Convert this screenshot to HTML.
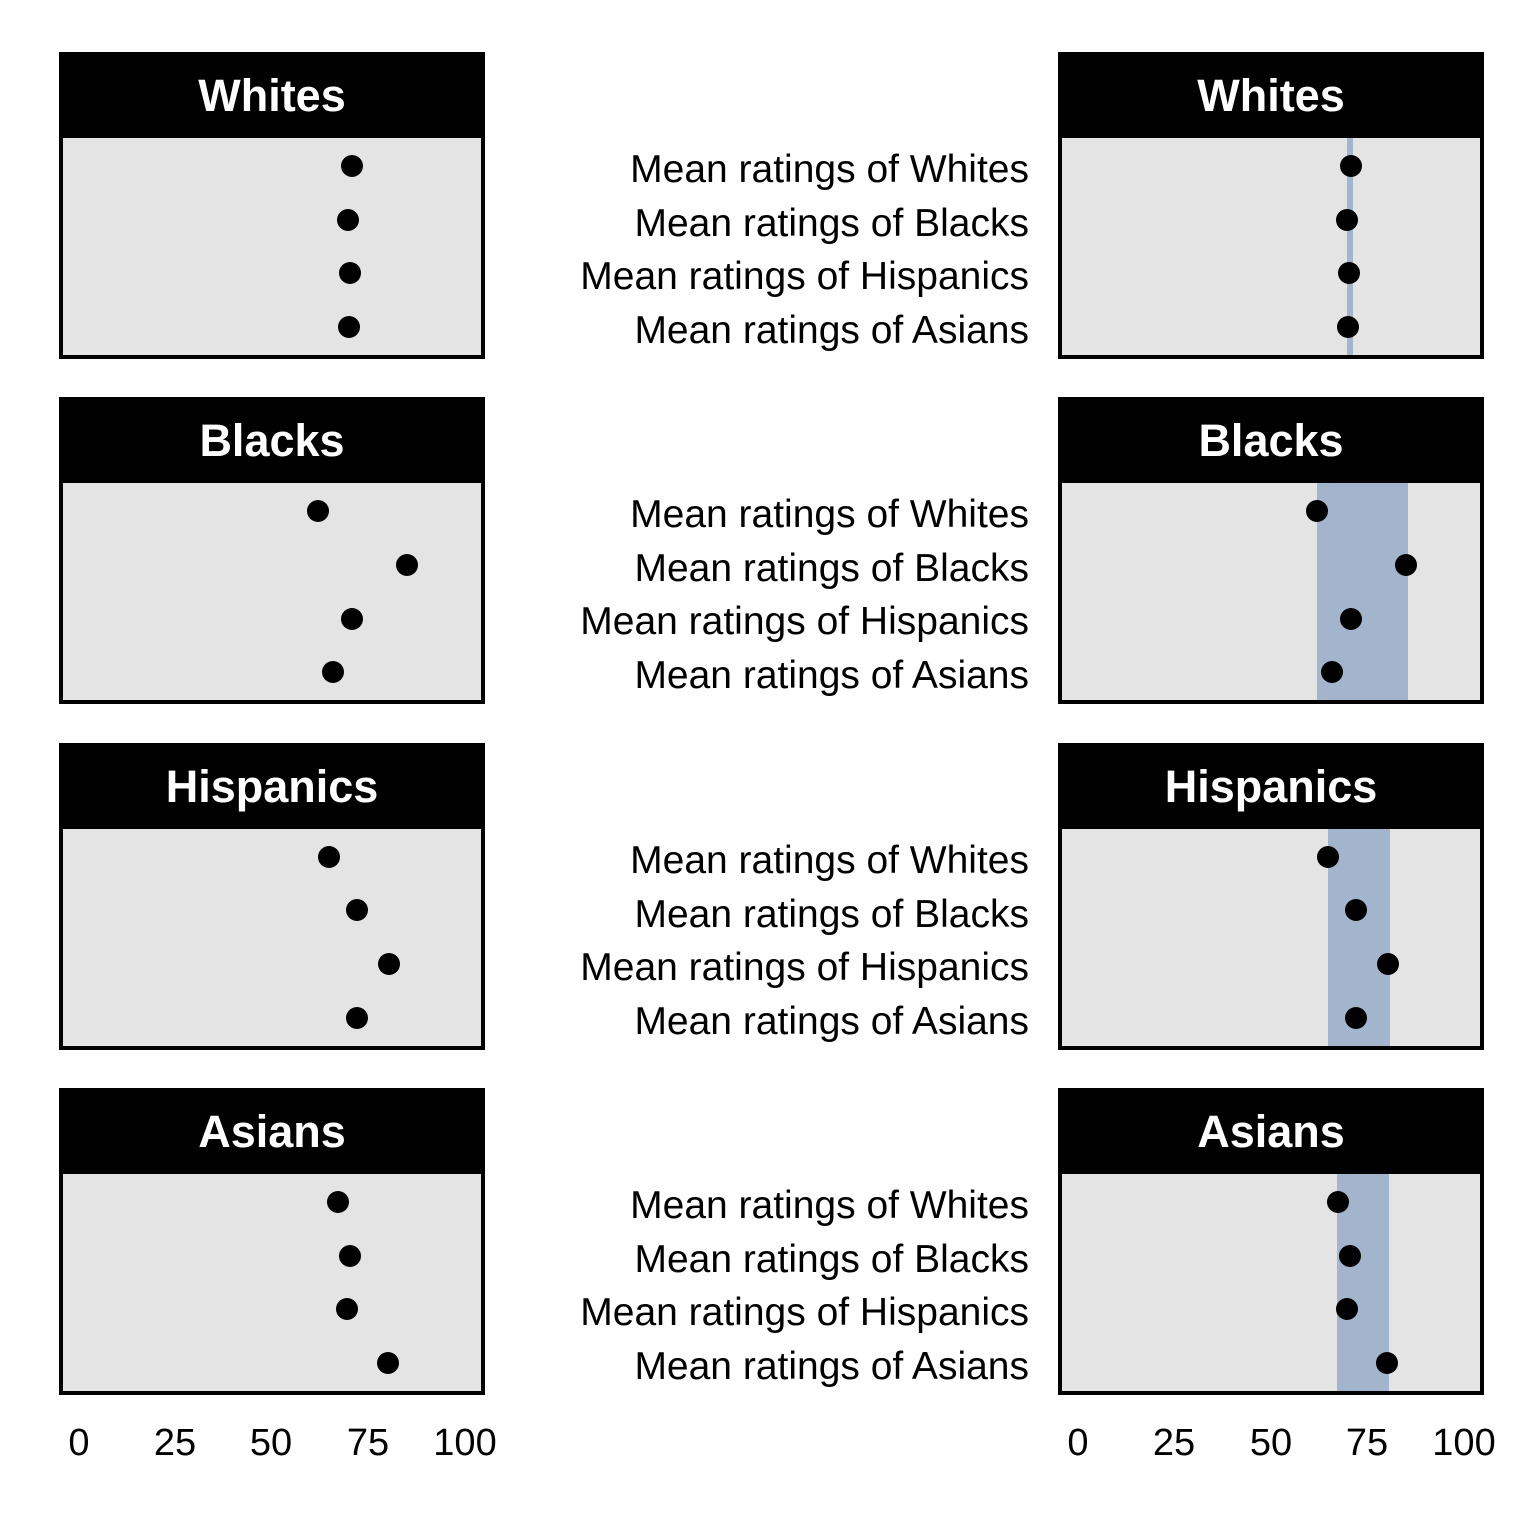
<!DOCTYPE html>
<html><head><meta charset="utf-8"><style>
html,body{margin:0;padding:0;background:#fff}
svg{display:block}
.s{font-family:"Liberation Sans",Arial,sans-serif;font-weight:bold;font-size:45px;fill:#fff}
.l{font-family:"Liberation Sans",Arial,sans-serif;font-size:39px;fill:#000}
.t{font-family:"Liberation Sans",Arial,sans-serif;font-size:38px;fill:#000}
</style></head><body>
<svg width="1536" height="1536" viewBox="0 0 1536 1536" xmlns="http://www.w3.org/2000/svg">
<defs>
<g id="panel">
<rect x="61" y="54" width="422" height="303" fill="#e4e4e4" stroke="#000" stroke-width="4"/>
<rect x="59" y="52" width="426" height="86" fill="#000"/>
</g>
<g id="labels">
<text class="l" x="1029" y="182" text-anchor="end">Mean ratings of Whites</text>
<text class="l" x="1029" y="236" text-anchor="end">Mean ratings of Blacks</text>
<text class="l" x="1029" y="289" text-anchor="end">Mean ratings of Hispanics</text>
<text class="l" x="1029" y="343" text-anchor="end">Mean ratings of Asians</text>
</g>
</defs>

<g transform="translate(0,0)">
<use href="#panel"/><use href="#panel" x="999"/>
<rect x="1347" y="138" width="6" height="217" fill="#a3b5cc"/>
<rect x="1060" y="54" width="422" height="303" fill="none" stroke="#000" stroke-width="4"/>
<text class="s" x="272" y="111" text-anchor="middle">Whites</text>
<text class="s" x="1271" y="111" text-anchor="middle">Whites</text>
<use href="#labels"/>
<circle cx="352" cy="166" r="11"/><circle cx="348" cy="220" r="11"/><circle cx="350" cy="273" r="11"/><circle cx="349" cy="327" r="11"/>
<circle cx="1351" cy="166" r="11"/><circle cx="1347" cy="220" r="11"/><circle cx="1349" cy="273" r="11"/><circle cx="1348" cy="327" r="11"/>
</g>

<g transform="translate(0,345)">
<use href="#panel"/><use href="#panel" x="999"/>
<rect x="1317" y="138" width="91" height="217" fill="#a3b5cc"/>
<rect x="1060" y="54" width="422" height="303" fill="none" stroke="#000" stroke-width="4"/>
<text class="s" x="272" y="111" text-anchor="middle">Blacks</text>
<text class="s" x="1271" y="111" text-anchor="middle">Blacks</text>
<use href="#labels"/>
<circle cx="318" cy="166" r="11"/><circle cx="407" cy="220" r="11"/><circle cx="352" cy="274" r="11"/><circle cx="333" cy="327" r="11"/>
<circle cx="1317" cy="166" r="11"/><circle cx="1406" cy="220" r="11"/><circle cx="1351" cy="274" r="11"/><circle cx="1332" cy="327" r="11"/>
</g>

<g transform="translate(0,691)">
<use href="#panel"/><use href="#panel" x="999"/>
<rect x="1328" y="138" width="62" height="217" fill="#a3b5cc"/>
<rect x="1060" y="54" width="422" height="303" fill="none" stroke="#000" stroke-width="4"/>
<text class="s" x="272" y="111" text-anchor="middle">Hispanics</text>
<text class="s" x="1271" y="111" text-anchor="middle">Hispanics</text>
<use href="#labels"/>
<circle cx="329" cy="166" r="11"/><circle cx="357" cy="219" r="11"/><circle cx="389" cy="273" r="11"/><circle cx="357" cy="327" r="11"/>
<circle cx="1328" cy="166" r="11"/><circle cx="1356" cy="219" r="11"/><circle cx="1388" cy="273" r="11"/><circle cx="1356" cy="327" r="11"/>
</g>

<g transform="translate(0,1036)">
<use href="#panel"/><use href="#panel" x="999"/>
<rect x="1337" y="138" width="52" height="217" fill="#a3b5cc"/>
<rect x="1060" y="54" width="422" height="303" fill="none" stroke="#000" stroke-width="4"/>
<text class="s" x="272" y="111" text-anchor="middle">Asians</text>
<text class="s" x="1271" y="111" text-anchor="middle">Asians</text>
<use href="#labels"/>
<circle cx="338" cy="166" r="11"/><circle cx="350" cy="220" r="11"/><circle cx="347" cy="273" r="11"/><circle cx="388" cy="327" r="11"/>
<circle cx="1338" cy="166" r="11"/><circle cx="1350" cy="220" r="11"/><circle cx="1347" cy="273" r="11"/><circle cx="1387" cy="327" r="11"/>
</g>

<g text-anchor="middle">
<text class="t" x="79" y="1455">0</text>
<text class="t" x="175" y="1455">25</text>
<text class="t" x="271" y="1455">50</text>
<text class="t" x="368" y="1455">75</text>
<text class="t" x="465" y="1455">100</text>
<text class="t" x="1078" y="1455">0</text>
<text class="t" x="1174" y="1455">25</text>
<text class="t" x="1271" y="1455">50</text>
<text class="t" x="1367" y="1455">75</text>
<text class="t" x="1464" y="1455">100</text>
</g>
</svg>
</body></html>
